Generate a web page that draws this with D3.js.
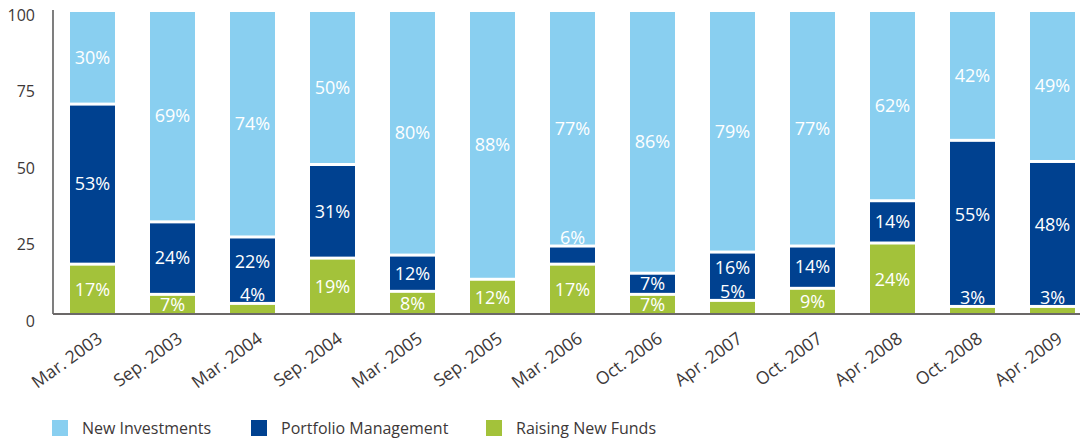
<!DOCTYPE html>
<html><head><meta charset="utf-8">
<script src="https://cdn.jsdelivr.net/npm/d3@7"></script>
<style>body{margin:0;background:#fff}svg{display:block}text{font-family:"Open Sans","Noto Sans",sans-serif}</style>
</head><body>
<svg id="c" width="1080" height="441"></svg>
<script>
const categories = ["Mar. 2003","Sep. 2003","Mar. 2004","Sep. 2004","Mar. 2005","Sep. 2005","Mar. 2006","Oct. 2006","Apr. 2007","Oct. 2007","Apr. 2008","Oct. 2008","Apr. 2009"];
const raisingNewFunds     = [17, 7, 4, 19, 8, 12, 17, 7, 5, 9, 24, 3, 3];
const portfolioManagement = [53, 24, 22, 31, 12, 0, 6, 7, 16, 14, 14, 55, 48];
const newInvestments      = [30, 69, 74, 50, 80, 88, 77, 86, 79, 77, 62, 42, 49];
const seriesNames = ["Raising New Funds","Portfolio Management","New Investments"];
const legendOrder = ["New Investments","Portfolio Management","Raising New Funds"];
const yTicks = [0, 25, 50, 75, 100];

const colors = {"New Investments":"#89CFF0","Portfolio Management":"#004190","Raising New Funds":"#A3C23A"};
const textColor = "#3d3838";

const svg = d3.select("#c");
const x = d3.scaleBand().domain(categories).range([53, 1092]).paddingInner(0.4375).paddingOuter(0.2125);
const y = d3.scaleLinear().domain([0, 100]).range([314, 12]);
const yLab = d3.scaleLinear().domain([0, 100]).range([321, 15]);

const rows = categories.map((c, i) => ({cat: c, "Raising New Funds": raisingNewFunds[i], "Portfolio Management": portfolioManagement[i], "New Investments": newInvestments[i]}));
const stack = d3.stack().keys(seriesNames)(rows);
const gap = 3;

svg.append("line").attr("x1", 53).attr("x2", 53).attr("y1", 10).attr("y2", 314).attr("stroke", "#3a3a3a").attr("stroke-width", 1.3);

const labels = [];
stack.forEach((layer, li) => {
  const key = layer.key;
  layer.forEach((d, i) => {
    const v = d[1] - d[0];
    if (v <= 0) return;
    const isTop = li === stack.length - 1;
    const top = y(d[1]) + (isTop ? 0 : gap);
    const bottom = y(d[0]);
    svg.append("rect").attr("x", x(categories[i])).attr("width", x.bandwidth())
      .attr("y", top).attr("height", Math.max(0, bottom - top)).attr("fill", colors[key]);
    const cx = x(categories[i]) + x.bandwidth() / 2;
    let cy;
    if (v <= 6) cy = top - 10;
    else {
      const below = li > 0 ? stack[li - 1][i][1] - stack[li - 1][i][0] : 99;
      cy = (!isTop && below > 0 && below <= 6) ? (top + bottom - 18) / 2 : (top + bottom) / 2;
    }
    labels.push({cx, cy, t: v + "%"});
  });
});

svg.selectAll(".vl").data(labels).enter().append("text")
  .attr("x", d => d.cx).attr("y", d => d.cy).attr("dy", "0.35em")
  .attr("text-anchor", "middle").attr("fill", "#fff").attr("font-size", 18).text(d => d.t);

svg.append("line").attr("x1", 53).attr("x2", 1080).attr("y1", 314).attr("y2", 314).attr("stroke", "#6b6868").attr("stroke-width", 2);

svg.selectAll(".yt").data(yTicks).enter().append("text")
  .attr("x", 35).attr("y", d => yLab(d)).attr("dy", "0.35em").attr("text-anchor", "end")
  .attr("fill", textColor).attr("font-size", 16).text(d => d);

categories.forEach(c => {
  const cx = x(c) + x.bandwidth() / 2 + 11;
  svg.append("text").attr("transform", `translate(${cx},${341}) rotate(-36)`)
    .attr("text-anchor", "end").attr("fill", textColor).attr("font-size", 17.5).text(c);
});

const lx = [52, 251, 486];
legendOrder.forEach((k, i) => {
  svg.append("rect").attr("x", lx[i]).attr("y", 420).attr("width", 16).attr("height", 16).attr("fill", colors[k]);
  svg.append("text").attr("x", lx[i] + 30).attr("y", 428).attr("dy", "0.35em").attr("fill", textColor).attr("font-size", 16).text(k);
});
</script>
</body></html>
